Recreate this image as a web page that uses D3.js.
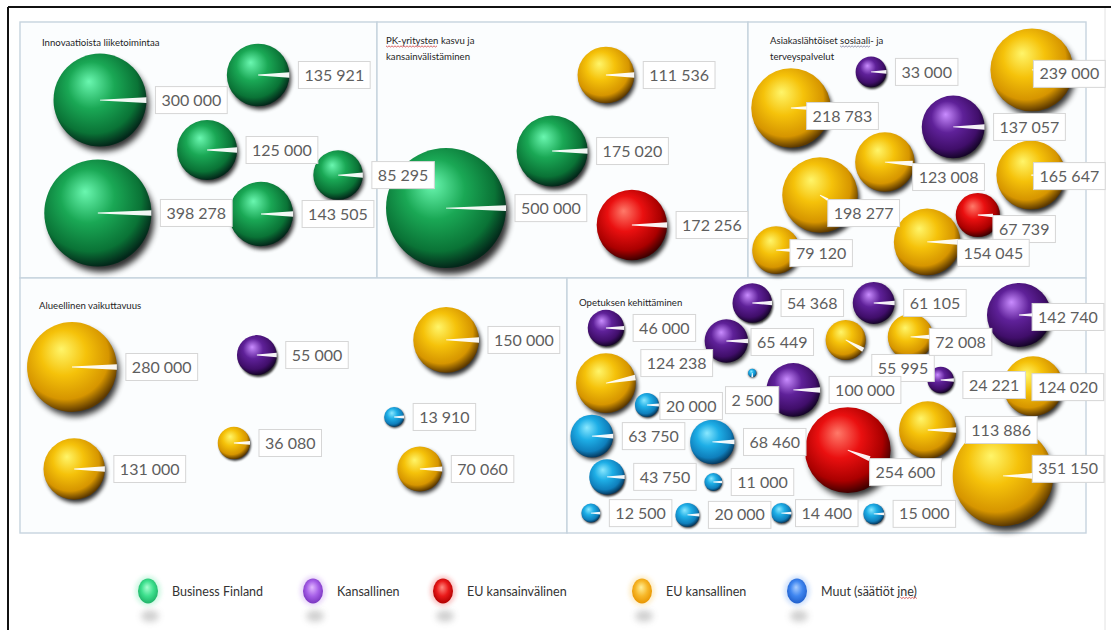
<!DOCTYPE html>
<html>
<head>
<meta charset="utf-8">
<script src="https://cdn.jsdelivr.net/npm/d3@7"></script>
<style>
  html, body { margin: 0; padding: 0; background: #fff; }
  svg { display: block; font-family: Lato, "Noto Sans", sans-serif; }
</style>
</head>
<body>
<svg id="chart" width="1111" height="630"></svg>
<script>
// ---- funding sources (series) ----
const sources = ["Business Finland", "Kansallinen", "EU kansainvälinen", "EU kansallinen", "Muut (säätiöt jne)"];

// ---- panel titles (one array of lines per panel) ----
const panelTitles = [
  ["Innovaatioista liiketoimintaa"],
  ["PK-yritysten kasvu ja", "kansainvälistäminen"],
  ["Asiakaslähtöiset sosiaali- ja", "terveyspalvelut"],
  ["Alueellinen vaikuttavuus"],
  ["Opetuksen kehittäminen"]
];

// ---- Innovaatioista liiketoimintaa ----
const p1Value  = [300000, 135921, 125000, 85295, 398278, 143505];
const p1Source = [0, 0, 0, 0, 0, 0];
const p1X      = [22.4, 66.7, 52.4, 89.1, 21.8, 67.5];
const p1Y      = [69.5, 79.3, 50.0, 40.2, 25.4, 25.0];

// ---- PK-yritysten kasvu ja kansainvälistäminen ----
const p2Value  = [111536, 175020, 500000, 172256];
const p2Source = [3, 0, 0, 2];
const p2X      = [61.7, 47.2, 18.6, 68.7];
const p2Y      = [79.3, 49.6, 27.3, 20.7];

// ---- Asiakaslähtöiset sosiaali- ja terveyspalvelut ----
const p3Value  = [33000, 239000, 218783, 137057, 123008, 165647, 198277, 67739, 154045, 79120];
const p3Source = [1, 3, 3, 1, 3, 3, 3, 2, 3, 3];
const p3X      = [36.4, 84.0, 12.7, 60.7, 40.5, 83.7, 21.3, 68.0, 53.0, 8.3];
const p3Y      = [80.5, 81.3, 66.4, 59.0, 45.3, 40.2, 32.4, 24.6, 14.1, 10.9];

// ---- Alueellinen vaikuttavuus ----
const p4Value  = [280000, 55000, 150000, 13910, 36080, 131000, 70060];
const p4Source = [3, 1, 3, 4, 3, 3, 3];
const p4X      = [9.5, 43.3, 77.9, 68.4, 39.1, 9.9, 73.1];
const p4Y      = [65.1, 69.8, 75.7, 45.5, 35.3, 25.1, 25.1];

// ---- Opetuksen kehittäminen ----
const p5Value  = [54368, 61105, 142740, 46000, 65449, 55995, 72008, 124238, 2500, 100000, 24221, 124020,
                  20000, 63750, 68460, 254600, 113886, 351150, 43750, 11000, 12500, 20000, 14400, 15000];
const p5Source = [1, 1, 1, 1, 1, 3, 3, 3, 4, 1, 1, 3,
                  4, 4, 4, 2, 3, 3, 4, 4, 4, 4, 4, 4];
const p5X      = [35.7, 59.1, 87.1, 7.5, 30.7, 53.7, 66.2, 7.5, 35.7, 43.6, 72.0, 89.8,
                  15.4, 4.8, 28.0, 54.1, 69.5, 84.0, 7.7, 28.2, 4.6, 23.2, 41.3, 59.1];
const p5Y      = [90.2, 90.2, 85.5, 80.4, 75.3, 75.7, 76.9, 58.8, 62.7, 56.1, 60.0, 57.6,
                  50.2, 38.0, 35.7, 32.5, 40.4, 22.4, 22.0, 20.0, 7.8, 7.1, 7.8, 7.5];

const panelValues  = [p1Value, p2Value, p3Value, p4Value, p5Value];
const panelSources = [p1Source, p2Source, p3Source, p4Source, p5Source];
const panelX       = [p1X, p2X, p3X, p4X, p5X];
const panelY       = [p1Y, p2Y, p3Y, p4Y, p5Y];

// ---- layout ----
const W = 1111, H = 630;
const panelBoxes = [
  { x: 20,  y: 22,  w: 357, h: 256 },
  { x: 377, y: 22,  w: 371, h: 256 },
  { x: 748, y: 22,  w: 338, h: 256 },
  { x: 20,  y: 278, w: 547, h: 255 },
  { x: 567, y: 278, w: 519, h: 255 }
];
const titlePos = [[42, 46], [386, 44], [770, 44], [39, 309], [579, 306]];
const titleLineGap = 16;
// manual label placements (px shift from the default right-hand position)
const labelNudge = {
  "2-1": [-49, 4], "2-2": [-33, 8], "2-4": [-11, 15], "2-5": [-41, 1], "2-6": [-39, 18],
  "2-7": [-16, 14], "2-8": [-12, 11], "2-9": [-19, 3],
  "4-2": [-28, 2], "4-4": [-6, 1], "4-5": [-3, 28], "4-6": [-13, 5], "4-7": [-4, -20],
  "4-8": [-40, 27], "4-10": [0, 5], "4-11": [-40, 1], "4-12": [-8, 1], "4-15": [-30, 22],
  "4-17": [-30, -7], "4-22": [-5, 0]
};
const legendPos = [148, 313, 443, 642, 797];
const legendY = 591;

// sphere shading: highlight, body, rim, edge
const sphereColors = [
  ["#6af7b0", "#1aa855", "#0a7336", "#03281a"],
  ["#c98cff", "#5f2199", "#400e6a", "#16042a"],
  ["#ff7a6a", "#ea1010", "#aa0000", "#420000"],
  ["#fff56a", "#f5c20a", "#d69500", "#5e3a00"],
  ["#8ae8ff", "#1eaee6", "#0f7fbc", "#053a60"]
];
const legendColors = [
  ["#a8ffd0", "#3ee08e", "#1fb368"],
  ["#e2b8ff", "#a760e8", "#7a35c0"],
  ["#ff8a80", "#ea1a1a", "#b00000"],
  ["#fff09a", "#f7b82a", "#e89500"],
  ["#a9cdff", "#3f86f0", "#2160cc"]
];

const fmt = d3.formatLocale({ decimal: ",", thousands: "\u00a0", grouping: [3], currency: ["", "\u00a0€"] }).format(",d");
const size = d3.scaleSqrt().domain([0, 500000]).range([0, 60]);

const svg = d3.select("#chart");
const defs = svg.append("defs");

sphereColors.forEach((c, i) => {
  const g = defs.append("radialGradient").attr("id", "sph" + i)
    .attr("cx", "44%").attr("cy", "40%").attr("r", "60%").attr("fx", "38%").attr("fy", "30%");
  [[0, c[0]], [0.42, c[1]], [0.8, c[2]], [1, c[3]]].forEach(([o, col]) =>
    g.append("stop").attr("offset", o).attr("stop-color", col));
});
legendColors.forEach((c, i) => {
  const g = defs.append("radialGradient").attr("id", "leg" + i)
    .attr("cx", "50%").attr("cy", "45%").attr("r", "55%").attr("fx", "45%").attr("fy", "35%");
  [[0, c[0]], [0.55, c[1]], [1, c[2]]].forEach(([o, col]) =>
    g.append("stop").attr("offset", o).attr("stop-color", col));
});
[1, 2, 3, 4].forEach(s => {
  defs.append("filter").attr("id", "blur" + s).attr("x", "-60%").attr("y", "-60%")
    .attr("width", "220%").attr("height", "220%")
    .append("feGaussianBlur").attr("stdDeviation", s);
});

// ---- outer frame ----
svg.append("line").attr("x1", 8).attr("x2", W).attr("y1", 7).attr("y2", 7)
  .attr("stroke", "#111").attr("stroke-width", 2);
svg.append("line").attr("x1", 8).attr("x2", 8).attr("y1", 7).attr("y2", H)
  .attr("stroke", "#111").attr("stroke-width", 2);
svg.append("line").attr("x1", 1105).attr("x2", 1105).attr("y1", 8).attr("y2", H)
  .attr("stroke", "#e2e2e2").attr("stroke-width", 1);

// ---- panels ----
svg.append("g").selectAll("rect").data(panelBoxes).join("rect")
  .attr("x", d => d.x).attr("y", d => d.y).attr("width", d => d.w).attr("height", d => d.h)
  .attr("fill", "#fbfdfe").attr("stroke", "#c6d3de").attr("stroke-width", 1.4);

// wavy spell-check underline below part of a text element
function squiggle(textNode, from, to, color) {
  const x0 = textNode.getStartPositionOfChar(from).x;
  const x1 = textNode.getEndPositionOfChar(to - 1).x;
  const y = +textNode.getAttribute("y") + 2.2;
  const pts = [];
  for (let x = x0, k = 0; x <= x1; x += 1.5, k++) pts.push([x, y + (k % 2 ? 0.8 : -0.3)]);
  svg.append("path").attr("d", d3.line()(pts)).attr("fill", "none")
    .attr("stroke", color).attr("stroke-width", 0.8);
}

const titleG = svg.append("g");
panelTitles.forEach((lines, p) => {
  lines.forEach((line, li) => {
    const t = titleG.append("text")
      .attr("x", titlePos[p][0]).attr("y", titlePos[p][1] + li * titleLineGap)
      .attr("font-size", 9.6).attr("fill", "#1e1e1e").text(line);
    if (p === 1 && li === 0) squiggle(t.node(), 0, 12, "#d04040");
    if (p === 2 && li === 0) squiggle(t.node(), 17, 25, "#7a7a9a");
  });
});

// ---- bubbles ----
const bubbles = [];
panelBoxes.forEach((b, p) => {
  const xs = d3.scaleLinear().domain([0, 100]).range([b.x, b.x + b.w]);
  const ys = d3.scaleLinear().domain([0, 100]).range([b.y + b.h, b.y]);
  panelValues[p].forEach((v, i) => {
    bubbles.push({ key: p + "-" + i, value: v, source: panelSources[p][i],
      cx: xs(panelX[p][i]), cy: ys(panelY[p][i]), r: size(v) });
  });
});

const shadowG = svg.append("g");
shadowG.selectAll("circle").data(bubbles).join("circle")
  .attr("cx", d => d.cx + d.r * 0.07).attr("cy", d => d.cy + d.r * 0.12).attr("r", d => d.r * 0.98)
  .attr("fill", "#000").attr("opacity", 0.82)
  .attr("filter", d => "url(#blur" + (d.r > 40 ? 3 : d.r > 20 ? 2 : 1) + ")");

svg.append("g").selectAll("circle").data(bubbles).join("circle")
  .attr("cx", d => d.cx).attr("cy", d => d.cy).attr("r", d => d.r)
  .attr("fill", d => "url(#sph" + d.source + ")");

// ---- labels ----
const labelG = svg.append("g").attr("font-size", 16).attr("fill", "#5e5e5e");
const leaderG = svg.append("g");
const boxH = 27;
bubbles.forEach(d => {
  const n = labelNudge[d.key] || [0, 0];
  d.bx = d.cx + d.r + 9 + n[0];
  d.by = d.cy + n[1] - boxH / 2;
  const g = labelG.append("g");
  const rect = g.append("rect").attr("fill", "#fff").attr("stroke", "#d6d6d6").attr("stroke-width", 1);
  const t = g.append("text").attr("x", d.bx + 6).attr("y", d.by + boxH / 2 + 5.6).text(fmt(d.value));
  d.bw = t.node().getComputedTextLength() + 12;
  rect.attr("x", d.bx).attr("y", d.by).attr("width", d.bw).attr("height", boxH);

  // white leader from the bubble centre toward its label
  const tx = Math.max(d.bx, Math.min(d.cx, d.bx + d.bw));
  const ty = Math.max(d.by, Math.min(d.cy, d.by + boxH));
  const dx = tx - d.cx, dy = ty - d.cy;
  const dist = Math.hypot(dx, dy);
  if (dist > 0.5) {
    const L = Math.min(dist, d.r);
    const ux = dx / dist, uy = dy / dist;
    const ex = d.cx + ux * L, ey = d.cy + uy * L;
    const w0 = 0.4, w1 = Math.min(2.8, 0.6 + L * 0.08);
    const pts = [
      [d.cx - uy * w0, d.cy + ux * w0], [ex - uy * w1, ey + ux * w1],
      [ex + uy * w1, ey - ux * w1], [d.cx + uy * w0, d.cy - ux * w0]
    ];
    leaderG.append("path").attr("d", "M" + pts.join("L") + "Z").attr("fill", "#fff").attr("opacity", 0.95);
  }
});

// ---- legend ----
const legG = svg.append("g");
sources.forEach((s, i) => {
  const x = legendPos[i];
  legG.append("ellipse").attr("cx", x + 2).attr("cy", legendY + 25).attr("rx", 9).attr("ry", 6)
    .attr("fill", "#9a9a9a").attr("opacity", 0.45).attr("filter", "url(#blur3)");
  legG.append("ellipse").attr("cx", x).attr("cy", legendY).attr("rx", 13).attr("ry", 15)
    .attr("fill", legendColors[i][1]).attr("opacity", 0.25).attr("filter", "url(#blur2)");
  legG.append("ellipse").attr("cx", x).attr("cy", legendY).attr("rx", 10).attr("ry", 12.5)
    .attr("fill", "url(#leg" + i + ")");
  const t = legG.append("text").attr("x", x + 24).attr("y", legendY + 4.5)
    .attr("font-size", 12.5).attr("fill", "#333").text(s);
  if (i === 4) squiggle(t.node(), 15, 18, "#d04040");
});
</script>
</body>
</html>
